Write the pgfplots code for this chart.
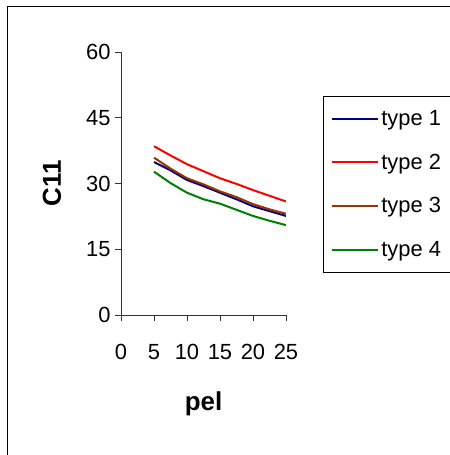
\documentclass[border=0pt]{standalone}
\usepackage{fontspec}
\setmainfont{Liberation Sans}
\usepackage{pgfplots}
\pgfplotsset{compat=1.18}
\definecolor{tnavy}{RGB}{0,0,128}
\definecolor{tred}{RGB}{255,0,0}
\definecolor{tbrown}{RGB}{153,51,0}
\definecolor{tgreen}{RGB}{0,128,0}
\begin{document}
\begin{tikzpicture}
\useasboundingbox (0bp,-455bp) rectangle (450bp,0bp);
\draw[line width=1bp] (7.5bp,-460bp) -- (7.5bp,-6.5bp) -- (460bp,-6.5bp);
\begin{axis}[
  at={(121bp,-315bp)}, anchor=south west,
  scale only axis, width=165bp, height=263bp,
  xmin=0, xmax=25, ymin=0, ymax=60,
  xtick={0,5,10,15,20,25}, ytick={0,15,30,45,60},
  axis x line*=bottom, axis y line*=left,
  axis line style={line width=0.8bp, black!80, -},
  tick align=outside, tick style={line width=0.8bp, black!80},
  major tick length=6bp,
  /pgf/number format/assume math mode=true,
  tick label style={font=\fontsize{22}{25}\selectfont},
  xticklabel style={yshift=-20bp},
  yticklabel style={xshift=-1bp},
  xlabel={\textbf{pel}}, ylabel={\textbf{C11}},
  label style={font=\fontsize{26}{30}\selectfont},
  xlabel style={at={(axis description cs:0.5,0)}, anchor=base, yshift=-95bp},
  ylabel style={at={(axis description cs:-0.418,0.5)}, anchor=center},
  legend style={at={(1.224,0.833)}, anchor=north west, draw=black, line width=0.8bp,
    font=\fontsize{22}{25}\selectfont, row sep=23bp, inner xsep=8bp, inner ysep=12bp},
  legend cell align=left,
  legend image code/.code={\draw[#1, line width=2bp] (0bp,0bp) -- (46bp,0bp);},
  every axis plot/.append style={line width=2bp},
]
\addplot[tnavy] coordinates {(5,34.9) (7.5,33.0) (10,30.8) (12.5,29.4) (15,27.9) (17.5,26.4) (20,24.8) (22.5,23.7) (25,22.6)};
\addlegendentry{type 1}
\addplot[tred] coordinates {(5,38.5) (7.5,36.4) (10,34.4) (12.5,32.8) (15,31.2) (17.5,29.9) (20,28.5) (22.5,27.2) (25,25.9)};
\addlegendentry{type 2}
\addplot[tbrown] coordinates {(5,35.9) (7.5,33.4) (10,31.2) (12.5,29.8) (15,28.2) (17.5,26.9) (20,25.3) (22.5,24.1) (25,23.1)};
\addlegendentry{type 3}
\addplot[tgreen] coordinates {(5,32.7) (7.5,30.1) (10,27.9) (12.5,26.4) (15,25.4) (17.5,24.0) (20,22.6) (22.5,21.5) (25,20.5)};
\addlegendentry{type 4}
\end{axis}
\end{tikzpicture}
\end{document}
